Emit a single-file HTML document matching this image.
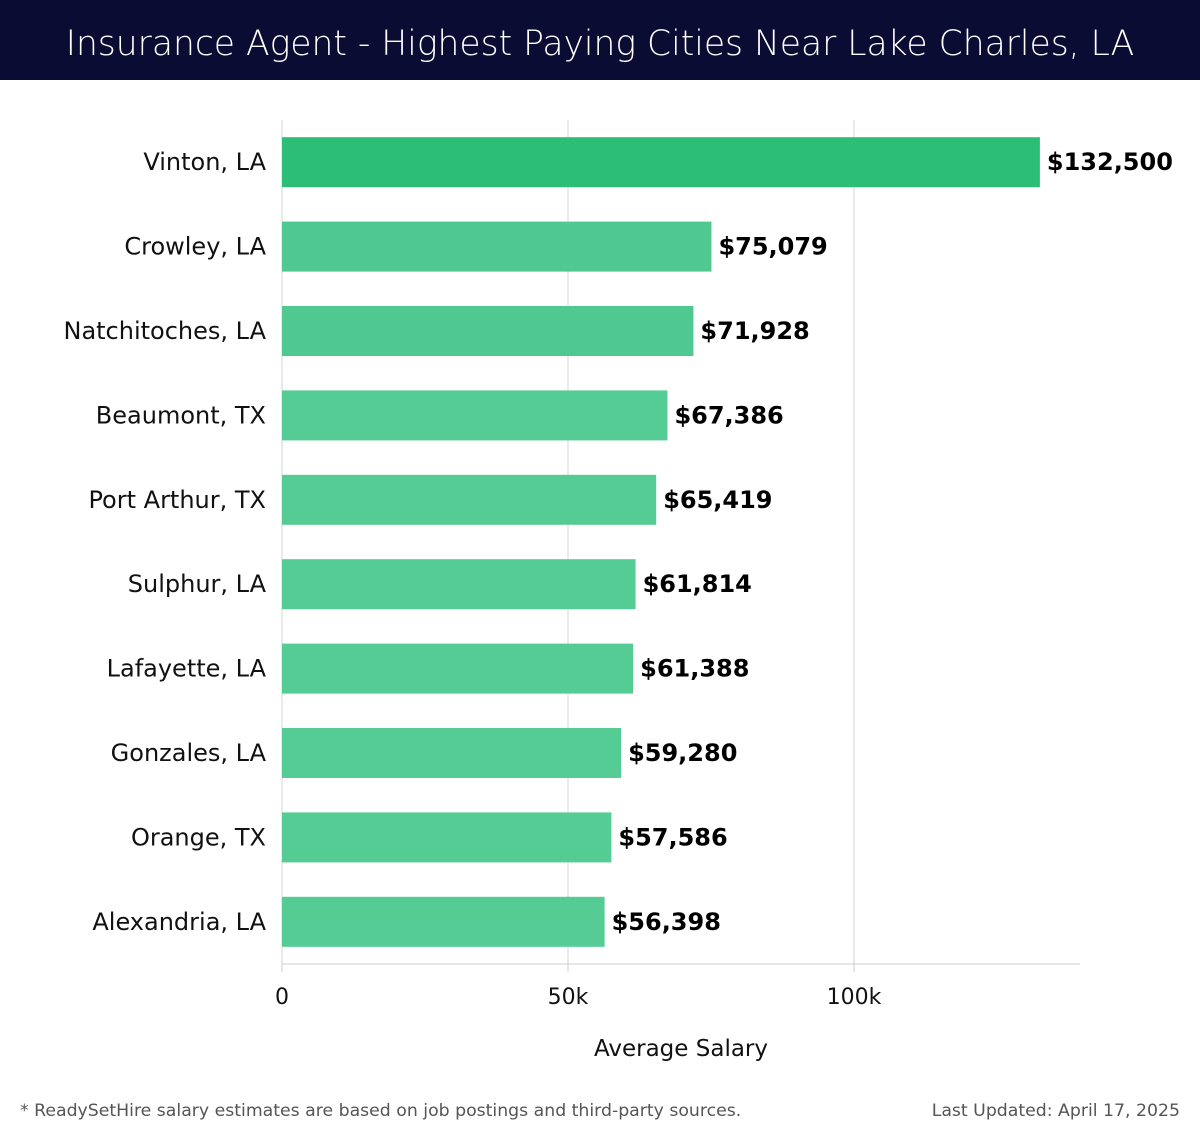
<!DOCTYPE html>
<html><head><meta charset="utf-8"><style>
body{margin:0;width:1200px;height:1140px;background:#fff;font-family:"DejaVu Sans","Liberation Sans",sans-serif;overflow:hidden;position:relative}
#title{position:absolute;left:0;top:0;width:1200px;height:80px;background:#0b0c33;color:#fff;font-size:34.5px;font-weight:300;text-align:center;line-height:88px}
.foot{position:absolute;top:1101px;font-size:17.3px;color:#555}
</style></head><body>
<div id="title">Insurance Agent - Highest Paying Cities Near Lake Charles, LA</div>
<svg id="chart" width="1200" height="1140" style="position:absolute;left:0;top:0"></svg>
<div class="foot" style="left:20px">* ReadySetHire salary estimates are based on job postings and third-party sources.</div>
<div class="foot" style="right:20px">Last Updated: April 17, 2025</div>
<script>
const cities=["Vinton, LA","Crowley, LA","Natchitoches, LA","Beaumont, TX","Port Arthur, TX","Sulphur, LA","Lafayette, LA","Gonzales, LA","Orange, TX","Alexandria, LA"];
const salaries=[132500,75079,71928,67386,65419,61814,61388,59280,57586,56398];
const tickValues=[0,50000,100000];
const tickLabels=["0","50k","100k"];
const NS="http://www.w3.org/2000/svg";
const svg=document.getElementById('chart');
const x0=282,pxPer=(854-282)/100000,top0=120,bottom=964,band=(bottom-top0)/cities.length,bh=50;
const xs=v=>x0+v*pxPer;
function mk(t,a){const e=document.createElementNS(NS,t);for(const k in a)e.setAttribute(k,a[k]);svg.appendChild(e);return e;}
tickValues.forEach((v,i)=>{
  const g=mk('line',{x1:xs(v),x2:xs(v),y1:top0,y2:bottom,stroke:'#e3e3e3','stroke-width':1.5});
  
  
  const tk=mk('line',{x1:xs(v),x2:xs(v),y1:bottom,y2:bottom+8,stroke:'#ccc'});
  
  
  const t=mk('text',{x:xs(v),y:1004,'text-anchor':'middle','font-size':22,fill:'#111'});
  t.textContent=tickLabels[i];
  
  
});
const ax=mk('line',{x1:x0,x2:1080,y1:bottom,y2:bottom,stroke:'#ccc'});


const at=mk('text',{x:681,y:1056,'text-anchor':'middle','font-size':23,fill:'#111'});
at.textContent='Average Salary';


cities.forEach((c,i)=>{
  const cy=top0+band*(i+0.5);
  const fill=i===0?'#2cbe76':(i<3?'#4fc98f':'#55cc94');
  const r=mk('rect',{x:x0,y:cy-bh/2,width:xs(salaries[i])-x0,height:bh,fill:fill});
  
  
  const l=mk('text',{x:266,y:cy+8,'text-anchor':'end','font-size':24,fill:'#111'});
  l.textContent=c;
  
  
  const v=mk('text',{x:xs(salaries[i])+7,y:cy+8,'font-size':24,'font-weight':'bold',fill:'#000'});
  v.textContent='$'+salaries[i].toLocaleString('en-US');
  
  
});
</script>
</body></html>
